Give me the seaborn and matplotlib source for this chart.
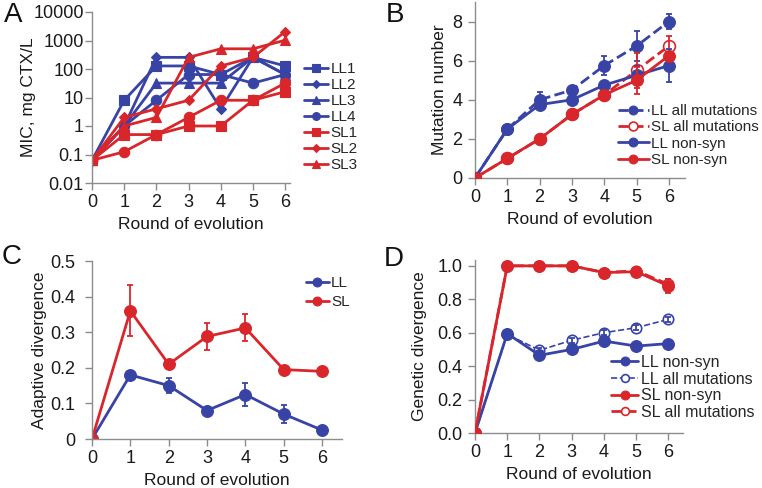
import numpy as np
import pandas as pd
import matplotlib
matplotlib.use("Agg")
import matplotlib.pyplot as plt
import seaborn as sns

sns.set_theme(style="ticks")
plt.rcParams['font.family'] = ['Liberation Sans', 'DejaVu Sans']

BLUE = "#3843a6"
RED = "#d9262b"
SPINE = "#8c8c8c"

rounds = [0, 1, 2, 3, 4, 5, 6]

# Panel A: MIC (mg CTX/L)
mic_LL1 = [0.0625, 8, 128, 128, 64, 256, 128]
mic_LL2 = [0.0625, 1, 256, 256, 4, 256, 64]
mic_LL3 = [0.0625, 1, 32, 32, 32, 256, 64]
mic_LL4 = [0.0625, 1, 8, 64, 64, 32, 64]
mic_SL1 = [0.0625, 0.5, 0.5, 1, 1, 8, 16]
mic_SL2 = [0.0625, 2, 4, 8, 128, 256, 2048]
mic_SL3 = [0.0625, 1, 2, 256, 512, 512, 1024]
mic_SL4 = [0.0625, 0.125, 0.5, 2, 8, 8, 32]

# Panel B: mutation number
mut_LL_all = [0, 2.5, 4.0, 4.5, 5.75, 6.75, 8.0]
mut_LL_all_err = [0, 0.1, 0.4, 0.2, 0.5, 0.75, 0.4]
mut_SL_all = [0, 1.0, 2.0, 3.25, 4.25, 5.5, 6.75]
mut_SL_all_err = [0, 0, 0, 0, 0.1, 0.9, 0.5]
mut_LL_ns = [0, 2.5, 3.75, 4.0, 4.75, 5.25, 5.75]
mut_LL_ns_err = [0, 0.1, 0.2, 0.1, 0.1, 0.5, 0.85]
mut_SL_ns = [0, 1.0, 2.0, 3.25, 4.25, 5.0, 6.25]
mut_SL_ns_err = [0, 0, 0, 0, 0, 0.7, 0.2]

# Panel C: adaptive divergence
ad_LL = [0, 0.18, 0.15, 0.08, 0.125, 0.07, 0.025]
ad_LL_err = [0, 0.004, 0.02, 0.004, 0.032, 0.025, 0.003]
ad_SL = [0, 0.36, 0.21, 0.288, 0.312, 0.195, 0.19]
ad_SL_err = [0, 0.072, 0.01, 0.037, 0.038, 0.004, 0.003]

# Panel D: genetic divergence
gd_LL_ns = [0, 0.595, 0.465, 0.50, 0.55, 0.52, 0.535]
gd_LL_ns_err = [0, 0.005, 0.01, 0.005, 0.01, 0.005, 0.005]
gd_LL_all = [0, 0.59, 0.495, 0.555, 0.60, 0.63, 0.68]
gd_LL_all_err = [0, 0.005, 0.015, 0.015, 0.015, 0.015, 0.015]
gd_SL_ns = [0, 1.0, 1.0, 1.0, 0.96, 0.965, 0.88]
gd_SL_ns_err = [0, 0, 0, 0, 0.01, 0.01, 0.04]
gd_SL_all = [0, 1.0, 1.0, 1.0, 0.96, 0.97, 0.89]
gd_SL_all_err = [0, 0, 0, 0, 0.01, 0.01, 0.03]

W, H = 762, 488
fig = plt.figure(figsize=(W / 100, H / 100), dpi=100)
TXT = "#1a1a1a"


def add_ax(left, top, right, bottom):
    return fig.add_axes([left / W, 1 - bottom / H, (right - left) / W, (bottom - top) / H])


def style(ax, ypad):
    sns.despine(ax=ax)
    for s in ("left", "bottom"):
        ax.spines[s].set_color(SPINE)
        ax.spines[s].set_linewidth(1.0)
    ax.tick_params(axis="both", colors=SPINE, labelcolor=TXT, labelsize=13,
                   length=5, width=1.0, direction="out")
    ax.tick_params(axis="x", pad=3)
    ax.tick_params(axis="y", pad=ypad)
    ax.set_xticks(rounds)
    ax.set_xlabel("Round of evolution", fontsize=12.5, color=TXT, labelpad=4)


def ylab(ax, text, right_px, left_px, width_px):
    ax.set_ylabel(text, fontsize=12.5, color=TXT)
    ax.yaxis.set_label_coords((right_px - left_px) / width_px, 0.5)


def line(ax, y, color, marker, ms, ls="-", lw=2.0, open_=False, label=None, err=None, z=2):
    sns.lineplot(x=rounds, y=y, ax=ax, color=color, marker=marker, markersize=ms,
                 linestyle=ls, linewidth=lw, markeredgecolor=color,
                 markerfacecolor="white" if open_ else color,
                 markeredgewidth=1.2 if open_ else 0.8,
                 label=label, errorbar=None, legend=False, zorder=z)
    if err is not None:
        ax.errorbar(rounds, y, yerr=err, fmt="none", ecolor=color, elinewidth=1.3,
                    capsize=2, capthick=1.3, zorder=z)


def legend(ax, order, x, y, fs, hl, ls):
    h, l = ax.get_legend_handles_labels()
    d = dict(zip(l, h))
    ax.legend([d[k] for k in order], order, loc="upper left",
              bbox_to_anchor=(x / W, 1 - y / H), bbox_transform=fig.transFigure,
              frameon=False, fontsize=fs, handlelength=hl, handletextpad=0.15,
              labelspacing=ls, borderpad=0, borderaxespad=0, markerscale=0.75)


# ---------- Panel A ----------
axA = add_ax(92, 12, 290, 183)
seriesA = [
    (mic_LL1, BLUE, "s", 7.5, "LL1"),
    (mic_LL2, BLUE, "D", 5.5, "LL2"),
    (mic_LL3, BLUE, "^", 7.5, "LL3"),
    (mic_LL4, BLUE, "o", 7.5, "LL4"),
    (mic_SL1, RED, "s", 7.5, "SL1"),
    (mic_SL2, RED, "D", 5.5, "SL2"),
    (mic_SL3, RED, "^", 7.5, "SL3"),
    (mic_SL4, RED, "o", 7.5, None),
]
for y, c, m, ms, lab in seriesA:
    line(axA, y, c, m, ms, lw=2.0, label=lab)
axA.set_yscale("log")
axA.set_ylim(0.01, 10000)
axA.set_xlim(0, 6.15)
axA.set_yticks([0.01, 0.1, 1, 10, 100, 1000, 10000])
axA.set_yticklabels(["0.01", "0.1", "1", "10", "100", "1000", "10000"])
axA.minorticks_off()
style(axA, ypad=1)
ylab(axA, "MIC, mg CTX/L", 36, 92, 198)
legend(axA, ["LL1", "LL2", "LL3", "LL4", "SL1", "SL2", "SL3"], 304, 62, 11, 1.6, 0.13)

# ---------- Panel B ----------
axB = add_ax(475, 2, 685, 178)
line(axB, mut_LL_all, BLUE, "o", 8.5, ls="--", label="LL all mutations", err=mut_LL_all_err, z=2)
line(axB, mut_SL_all, RED, "o", 8.5, ls="--", open_=True, label="SL all mutations", err=mut_SL_all_err, z=2)
line(axB, mut_LL_ns, BLUE, "o", 8.5, label="LL non-syn", err=mut_LL_ns_err, z=3)
line(axB, mut_SL_ns, RED, "o", 8.5, label="SL non-syn", err=mut_SL_ns_err, z=3)
axB.set_ylim(0, 9)
axB.set_xlim(0, 6.5)
axB.set_yticks([0, 2, 4, 6, 8])
style(axB, ypad=4)
ylab(axB, "Mutation number", 447, 475, 210)
legend(axB, ["LL all mutations", "SL all mutations", "LL non-syn", "SL non-syn"],
       618, 104, 11, 2.0, 0.15)

# ---------- Panel C ----------
axC = add_ax(92, 261, 342, 439)
line(axC, ad_LL, BLUE, "o", 8.5, label="LL", err=ad_LL_err)
line(axC, ad_SL, RED, "o", 8.5, label="SL", err=ad_SL_err)
axC.set_ylim(0, 0.5)
axC.set_xlim(0, 6.52)
axC.set_yticks([0, 0.1, 0.2, 0.3, 0.4, 0.5])
axC.set_yticklabels(["0", "0.1", "0.2", "0.3", "0.4", "0.5"])
style(axC, ypad=7)
ylab(axC, "Adaptive divergence", 47, 92, 250)
legend(axC, ["LL", "SL"], 306, 276, 11, 1.5, 0.35)

# ---------- Panel D ----------
axD = add_ax(475, 260, 683, 433)
line(axD, gd_LL_all, BLUE, "o", 7.5, ls="--", lw=1.2, open_=True, label="LL all mutations", err=gd_LL_all_err, z=2)
line(axD, gd_SL_all, RED, "o", 7.5, ls="--", open_=True, label="SL all mutations", err=gd_SL_all_err, z=2)
line(axD, gd_LL_ns, BLUE, "o", 8.5, label="LL non-syn", err=gd_LL_ns_err, z=3)
line(axD, gd_SL_ns, RED, "o", 8.5, label="SL non-syn", err=gd_SL_ns_err, z=3)
axD.set_ylim(0, 1.035)
axD.set_xlim(0, 6.45)
axD.set_yticks([0, 0.2, 0.4, 0.6, 0.8, 1.0])
axD.set_yticklabels(["0.0", "0.2", "0.4", "0.6", "0.8", "1.0"])
style(axD, ypad=4)
ylab(axD, "Genetic divergence", 427, 475, 208)
legend(axD, ["LL non-syn", "LL all mutations", "SL non-syn", "SL all mutations"],
       611, 355, 11.5, 1.7, 0.1)

# Panel letters
for txt, x, y in [("A", 4, 2), ("B", 386, 2), ("C", 2, 244), ("D", 384, 246)]:
    fig.text(x / W, 1 - y / H, txt, fontsize=20, color="#111111", ha="left", va="top")

fig.savefig("out.png", dpi=100)
